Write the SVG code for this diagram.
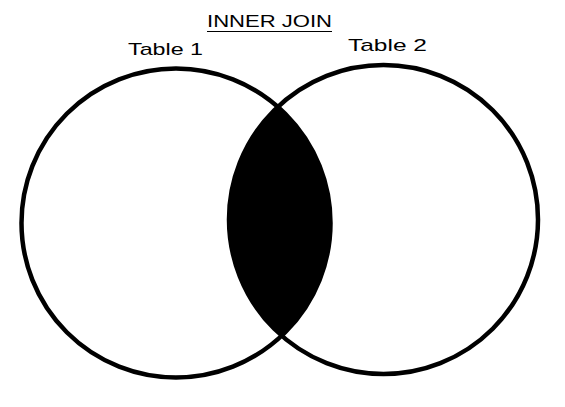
<svg xmlns="http://www.w3.org/2000/svg" width="565" height="407" viewBox="0 0 565 407">
  <style>
    .label { font-family: "Liberation Sans", "DejaVu Sans", sans-serif; font-size: 17px; fill: #000; }
    .set { fill: none; stroke: #000; stroke-width: 4.5; }
  </style>
  <defs>
    <clipPath id="clipRight">
      <circle cx="383.5" cy="219.5" r="154.5"/>
    </clipPath>
  </defs>
  <rect width="565" height="407" fill="#fff"/>
  <g id="title">
    <text class="label" x="207" y="27" textLength="125" lengthAdjust="spacingAndGlyphs">INNER JOIN</text>
    <line x1="207" y1="31.5" x2="332" y2="31.5" stroke="#000" stroke-width="1.2"/>
  </g>
  <g id="intersection">
    <circle cx="176" cy="223" r="154.5" fill="#000" clip-path="url(#clipRight)"/>
  </g>
  <g id="table1">
    <circle class="set" cx="176" cy="223" r="154.5"/>
    <text class="label" x="128" y="55" textLength="75" lengthAdjust="spacingAndGlyphs">Table 1</text>
  </g>
  <g id="table2">
    <circle class="set" cx="383.5" cy="219.5" r="154.5"/>
    <text class="label" x="348" y="51" textLength="79" lengthAdjust="spacingAndGlyphs">Table 2</text>
  </g>
  <g id="connectors"/>
</svg>
